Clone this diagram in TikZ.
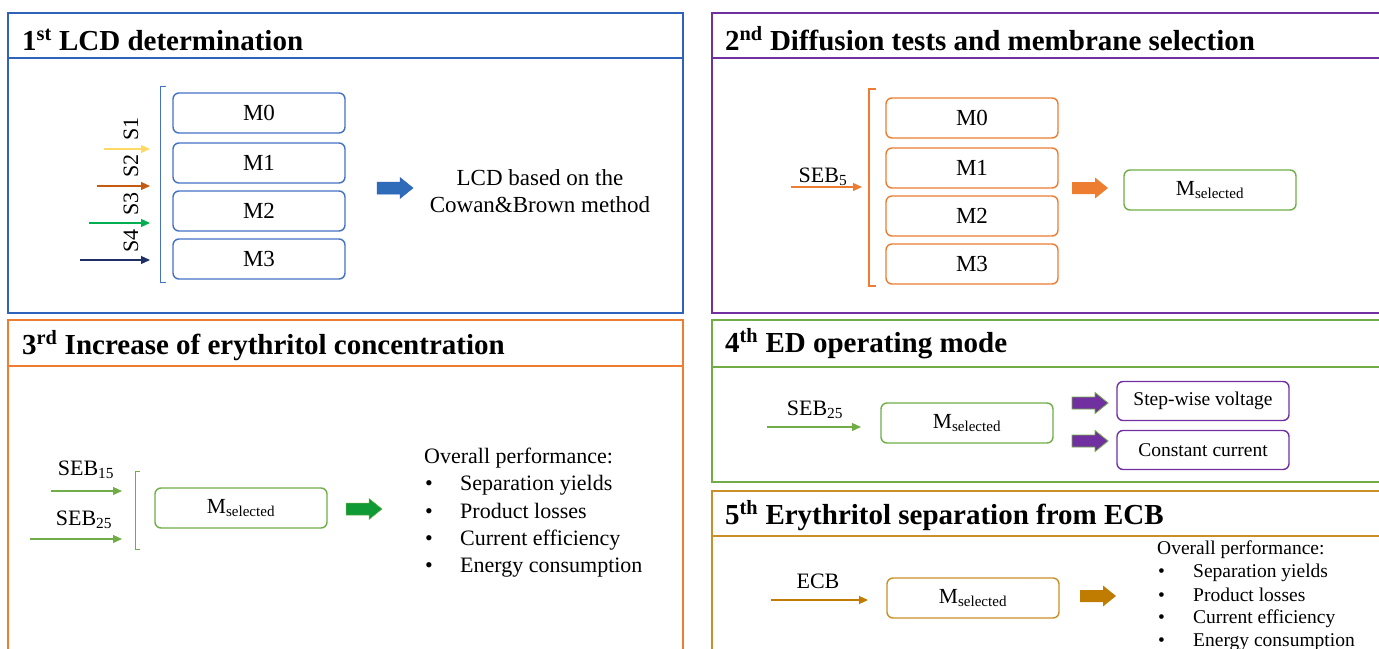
\documentclass[tikz,border=0pt]{standalone}
\usepackage{fontspec}
\setmainfont{Liberation Serif}
\usetikzlibrary{arrows.meta}
\definecolor{cblue}{HTML}{2F62BA}
\definecolor{cboxb}{HTML}{4472C4}
\definecolor{cS1}{HTML}{FFD966}
\definecolor{cS2}{HTML}{C55A11}
\definecolor{cS3}{HTML}{00B050}
\definecolor{cS4}{HTML}{1F2F66}
\definecolor{cbarblue}{HTML}{2E6CBA}
\definecolor{cpurple}{HTML}{7030A0}
\definecolor{corange}{HTML}{ED7D31}
\definecolor{cgreen}{HTML}{70AD47}
\definecolor{cdgreen}{HTML}{109A36}
\definecolor{cgold}{HTML}{C9902A}
\definecolor{cgoldarr}{HTML}{C07C00}
\begin{document}
\begin{tikzpicture}[x=1pt,y=-1pt,
  panel/.style={draw, line width=1.6pt},
  title/.style={anchor=base west, font=\bfseries\fontsize{29}{33}\selectfont, inner sep=0pt},
  mbox/.style={draw, rounded corners=6pt, line width=1.4pt, minimum width=172pt, minimum height=40pt, font=\fontsize{23}{26}\selectfont, inner sep=0pt},
  sbox/.style={mbox, font=\fontsize{21.5}{24}\selectfont},
  pbox/.style={draw, rounded corners=6pt, line width=1.4pt, minimum width=172pt, minimum height=39pt, font=\fontsize{19.5}{22}\selectfont, inner sep=0pt},
  txt/.style={font=\fontsize{22}{27}\selectfont, inner sep=0pt},
  ctxt/.style={font=\fontsize{23}{27}\selectfont, inner sep=0pt, align=center},
  ltxt/.style={font=\fontsize{22}{27}\selectfont, inner sep=0pt, anchor=base west},
  stxt/.style={font=\fontsize{19.5}{22}\selectfont, inner sep=0pt, anchor=base west},
  flow/.style={-{Triangle[length=9pt,width=8pt]}, line width=1.2pt},
  brk/.style={line width=0.9pt},
  pics/barrow/.style={code={\path[pic actions] (-18,-6) -- (5,-6) -- (5,-10.5) -- (18,0) -- (5,10.5) -- (5,6) -- (-18,6) -- cycle;}}
]
\useasboundingbox (0,0) rectangle (1379,648);
\clip (0,0) rectangle (1379,648);

% ---------- Panel 1 ----------
\draw[panel, cblue] (8,13) rectangle (683,58);
\draw[panel, cblue] (8,58) rectangle (683,313);
\node[title] (t1) at (22,50) {1\textsuperscript{st} LCD determination};
\node[mbox, draw=cboxb] (a0) at (259,113) {M0};
\node[mbox, draw=cboxb] (a1) at (259,163) {M1};
\node[mbox, draw=cboxb] (a2) at (259,211) {M2};
\node[mbox, draw=cboxb] (a3) at (259,259) {M3};
\draw[brk, cboxb] (166,86) -- (160,86) -- (160,282) -- (166,282);
\coordinate (s1a) at (104,149); \coordinate (s1b) at (150,149);
\coordinate (s2a) at (97,186);  \coordinate (s2b) at (150,186);
\coordinate (s3a) at (89,223);  \coordinate (s3b) at (150,223);
\coordinate (s4a) at (80,260);  \coordinate (s4b) at (150,260);
\draw[flow, cS1] (s1a) -- (s1b);
\draw[flow, cS2] (s2a) -- (s2b);
\draw[flow, cS3] (s3a) -- (s3b);
\draw[flow, cS4] (s4a) -- (s4b);
\node[txt, rotate=90] (l1) at (131,129) {S1};
\node[txt, rotate=90] (l2) at (131,166) {S2};
\node[txt, rotate=90] (l3) at (131,204) {S3};
\node[txt, rotate=90] (l4) at (131,241) {S4};
\pic[fill=cbarblue, draw=cblue, line width=0.5pt] (b1) at (395,188) {barrow};
\node[ctxt] (lcd) at (540,191) {LCD based on the\\Cowan\&Brown method};

% ---------- Panel 2 ----------
\draw[panel, cpurple] (712,13) rectangle (1400,58);
\draw[panel, cpurple] (712,58) rectangle (1400,313);
\node[title] (t2) at (725,50) {2\textsuperscript{nd} Diffusion tests and membrane selection};
\node[mbox, draw=corange] (b0) at (972,118) {M0};
\node[mbox, draw=corange] (b1m) at (972,168) {M1};
\node[mbox, draw=corange] (b2) at (972,216) {M2};
\node[mbox, draw=corange] (b3) at (972,264) {M3};
\draw[brk, corange, line width=1.2pt] (876,89) -- (869,89) -- (869,286) -- (876,286);
\node[txt, anchor=base] (seb5) at (823,182) {SEB\textsubscript{5}};
\coordinate (p2a) at (791,187); \coordinate (p2b) at (862,187);
\draw[flow, corange] (p2a) -- (p2b);
\pic[fill=corange] (b2a) at (1090,188) {barrow};
\node[sbox, draw=cgreen] (sel2) at (1210,190) {M\textsubscript{selected}};

% ---------- Panel 3 ----------
\draw[panel, corange] (8,320) rectangle (683,366);
\draw[panel, corange] (8,366) rectangle (683,700);
\node[title] (t3) at (22,354) {3\textsuperscript{rd} Increase of erythritol concentration};
\node[txt, anchor=base] (seb15) at (86,475) {SEB\textsubscript{15}};
\node[txt, anchor=base] (seb25a) at (84,525) {SEB\textsubscript{25}};
\coordinate (p3a) at (51,491); \coordinate (p3b) at (122,491);
\coordinate (p3c) at (30,539); \coordinate (p3d) at (122,539);
\draw[flow, cgreen] (p3a) -- (p3b);
\draw[flow, cgreen] (p3c) -- (p3d);
\draw[brk, cgreen] (140,471) -- (135,471) -- (135,549) -- (140,549);
\node[sbox, draw=cgreen] (sel3) at (241,508) {M\textsubscript{selected}};
\pic[fill=cdgreen, draw=cgreen, line width=0.5pt] (b3a) at (364,509) {barrow};
\node[ltxt] (op3) at (424,463) {Overall performance:};
\node[ltxt] (d31) at (425,490) {\textbullet};
\node[ltxt] (d32) at (425,518) {\textbullet};
\node[ltxt] (d33) at (425,545) {\textbullet};
\node[ltxt] (d34) at (425,572) {\textbullet};
\node[ltxt] (i31) at (460,490) {Separation yields};
\node[ltxt] (i32) at (460,518) {Product losses};
\node[ltxt] (i33) at (460,545) {Current efficiency};
\node[ltxt] (i34) at (460,572) {Energy consumption};

% ---------- Panel 4 ----------
\draw[panel, cgreen] (712,320) rectangle (1400,367);
\draw[panel, cgreen] (712,367) rectangle (1400,482);
\node[title] (t4) at (725,352) {4\textsuperscript{th} ED operating mode};
\node[txt, anchor=base] (seb25b) at (815,415) {SEB\textsubscript{25}};
\coordinate (p4a) at (767,427); \coordinate (p4b) at (861,427);
\draw[flow, cgreen] (p4a) -- (p4b);
\node[sbox, draw=cgreen] (sel4) at (967,423) {M\textsubscript{selected}};
\pic[fill=cpurple, draw=cgreen, line width=0.8pt] (b4a) at (1090,403) {barrow};
\pic[fill=cpurple, draw=cgreen, line width=0.8pt] (b4b) at (1090,441) {barrow};
\node[pbox, draw=cpurple] (sw) at (1203,401) {Step-wise voltage};
\node[pbox, draw=cpurple] (cc) at (1203,450) {Constant current};

% ---------- Panel 5 ----------
\draw[panel, cgold] (712,491) rectangle (1400,536);
\draw[panel, cgold] (712,536) rectangle (1400,700);
\node[title] (t5) at (725,524) {5\textsuperscript{th} Erythritol separation from ECB};
\node[txt, anchor=base] (ecb) at (818,588) {ECB};
\coordinate (p5a) at (771,600); \coordinate (p5b) at (868,600);
\draw[flow, cgoldarr] (p5a) -- (p5b);
\node[sbox, draw=cgold] (sel5) at (973,598) {M\textsubscript{selected}};
\pic[fill=cgoldarr] (b5a) at (1098,596) {barrow};
\node[stxt] (op5) at (1157,554) {Overall performance:};
\node[stxt] (d51) at (1158,577) {\textbullet};
\node[stxt] (d52) at (1158,601) {\textbullet};
\node[stxt] (d53) at (1158,623) {\textbullet};
\node[stxt] (d54) at (1158,646) {\textbullet};
\node[stxt] (i51) at (1193,577) {Separation yields};
\node[stxt] (i52) at (1193,601) {Product losses};
\node[stxt] (i53) at (1193,623) {Current efficiency};
\node[stxt] (i54) at (1193,646) {Energy consumption};
\end{tikzpicture}
\end{document}
